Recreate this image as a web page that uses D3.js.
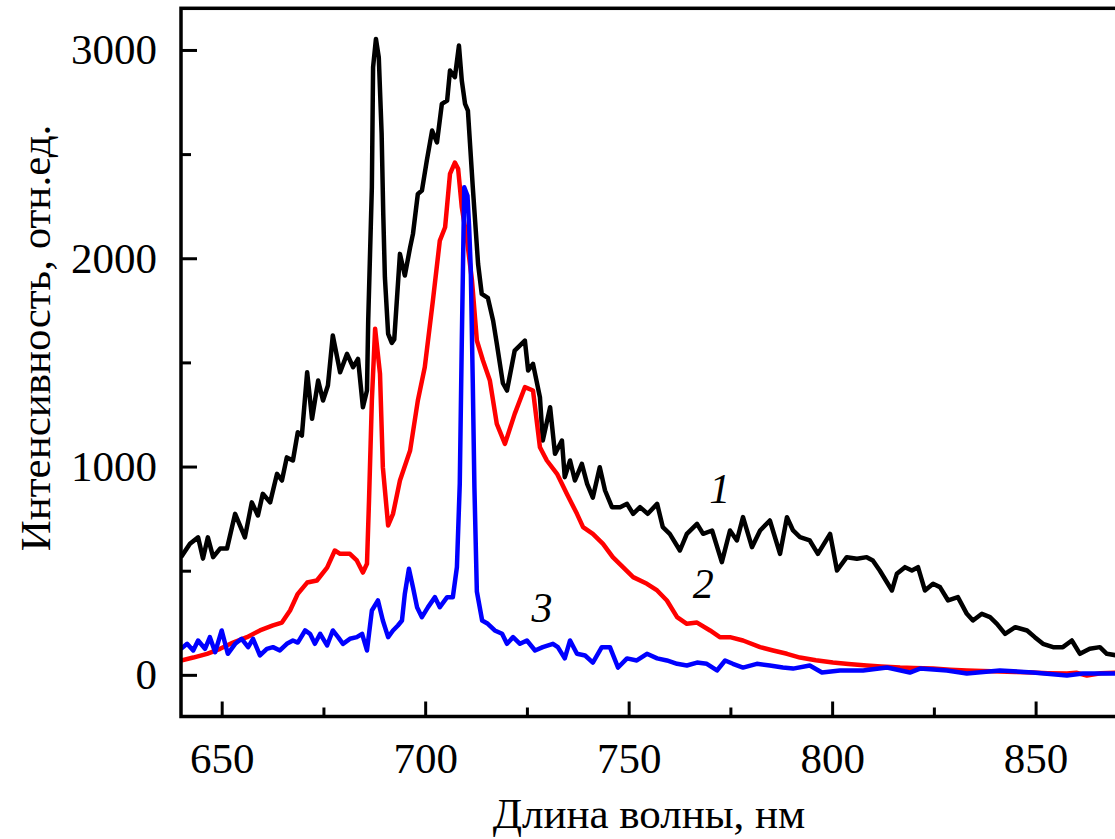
<!DOCTYPE html>
<html>
<head>
<meta charset="utf-8">
<script src="https://cdn.jsdelivr.net/npm/d3@7"></script>
<style>
  body { margin: 0; background: #fff; }
  svg text { font-family: "Liberation Serif", "Times New Roman", serif; fill: #000; }
</style>
</head>
<body>
<div id="chart"></div>
<script>
const width = 1115;
const height = 839;

// curve 1 (black)
const wave1 = [640, 642.2, 644.2, 645.4, 646.6, 647.9, 649.6, 651.3, 653.3, 655.7, 657.4, 658.9, 660.1, 661.9, 663.6, 664.8, 666, 667.5, 668.7, 669.7,
  671, 672.2, 673.7, 674.9, 676.1, 677.3, 679.1, 680.8, 682.3, 683.5, 684.7, 685.7, 686, 686.9, 687.2, 687.9, 688.6, 689.3, 689.7, 690.1,
  690.9, 691.8, 692.4, 693.8, 695, 696.3, 697, 698.2, 699.2, 700.4, 701.7, 702.9, 704.1, 705.4, 706.1, 707.3, 708.3, 709, 709.8, 710.5,
  711.7, 713, 713.9, 715.4, 716.7, 717.6, 719.1, 720.1, 722, 724.5, 725.3, 726.5, 728.2, 728.9, 730.7, 731.9, 733.6, 734.3, 735.6, 736.8,
  738.5, 739.8, 741.2, 742.9, 744.2, 745.9, 747.9, 749.6, 751.1, 752.8, 754.7, 757, 758.4, 760.1, 762.6, 764.3, 766.8, 768.3, 770.5, 772.9,
  774.9, 776.6, 778.1, 780.3, 782.3, 784.7, 787.2, 788.9, 790.4, 792.1, 794.5, 796.5, 799.5, 801.2, 803.6, 806.1, 808.5, 810, 811.7, 814.7,
  815.9, 817.9, 819.6, 821.1, 822.8, 824.8, 826.5, 828.5, 830.9, 833.1, 834.6, 836.8, 838.8, 840.5, 842.5, 845, 847.9, 849.8, 851.8, 854.3,
  856.7, 858.9, 860.9, 863.3, 865.8, 867.5, 870];
const int1 = [565, 629, 660, 558, 660, 565, 606, 606, 773, 660, 828, 765, 869, 828, 965, 933, 1044, 1029, 1165, 1149,
  1453, 1229, 1413, 1317, 1389, 1629, 1453, 1541, 1477, 1517, 1285, 1365, 1700, 2341, 2917, 3053, 2965, 2598, 2213, 1909,
  1637, 1594, 1610, 2021, 1917, 2052, 2117, 2309, 2325, 2469, 2613, 2556, 2741, 2757, 2901, 2869, 3021, 2853, 2741, 2709,
  2341, 1973, 1829, 1810, 1700, 1590, 1400, 1365, 1557, 1605, 1461, 1493, 1333, 1125, 1285, 1061, 1125, 949, 1029, 933,
  1013, 917, 851, 997, 885, 805, 805, 821, 773, 805, 773, 821, 709, 677, 597, 677, 725, 677, 693, 541,
  693, 645, 757, 613, 693, 741, 581, 757, 693, 661, 645, 581, 677, 501, 565, 557, 565, 549, 501, 405,
  485, 517, 501, 517, 405, 437, 421, 357, 373, 293, 261, 293, 277, 245, 197, 229, 213, 181, 149, 133,
  133, 165, 101, 125, 133, 101, 93];

// curve 2 (red)
const wave2 = [640, 643, 646.4, 649.6, 652.8, 656.2, 659.4, 662.6, 664.8, 666.8, 668.7, 671, 673.4, 675.9, 677.8, 679.1, 681.5, 683.2, 684.7, 685.7,
  686.2, 686.9, 687.7, 688.9, 689.6, 690.9, 692.1, 693.8, 696.3, 698.2, 699.9, 701.9, 703.6, 704.9, 706.1, 707.3, 708.1, 709, 710.3, 711.5,
  712.7, 714.2, 715.9, 717.6, 719.6, 722, 724.5, 726.5, 728.2, 729.9, 732.4, 734.8, 737.3, 738.8, 741.2, 743.7, 746.1, 748.6, 751.1, 754.5,
  757, 759.4, 761.9, 764.3, 766.8, 770, 772.4, 774.9, 778.1, 782.3, 785.5, 788.9, 792.1, 796, 800.2, 804, 808.5, 812, 816.7, 820,
  824.8, 829, 833.1, 837, 841.2, 845, 849.3, 853, 857.7, 860, 862.6, 866, 870];
const int2 = [69, 83, 101, 125, 155, 181, 213, 237, 251, 309, 389, 443, 453, 515, 597, 581, 581, 549, 491, 533,
  837, 1317, 1661, 1445, 997, 717, 773, 933, 1077, 1317, 1477, 1797, 2085, 2149, 2405, 2459, 2429, 2245, 2085, 1893,
  1605, 1509, 1413, 1205, 1109, 1253, 1381, 1365, 1093, 1029, 965, 869, 773, 709, 677, 629, 565, 517, 469, 437,
  405, 357, 277, 245, 251, 213, 181, 181, 165, 133, 117, 101, 83, 70, 59, 52, 45, 40, 35, 33,
  30, 25, 21, 18, 16, 14, 11, 8, 6, 10, -3, 8, 11];

// curve 3 (blue)
const wave3 = [640, 641.5, 643, 644.2, 645.9, 647.1, 648.4, 650, 651.5, 653.3, 654.9, 656.5, 657.7, 659.4, 661.1, 662.6, 664.3, 666, 667.5, 668.7,
  670.5, 671.7, 672.9, 674.2, 675.9, 677.3, 678.6, 679.8, 681.5, 683.2, 684.5, 685.7, 686.9, 688.4, 689.6, 690.9, 692.1, 693.3, 694.3, 695,
  696, 697, 698, 699.2, 700.7, 702.4, 703.6, 705.4, 706.8, 707.8, 708.5, 709, 709.6, 710.4, 710.8, 711.2, 711.7, 712.1, 712.7, 714,
  715.4, 717.1, 718.9, 720.1, 721.6, 723.3, 725, 727, 728.9, 731.4, 732.6, 734.3, 735.6, 737.3, 739.3, 741.2, 743.4, 745.4, 747.4, 749.6,
  752, 754.5, 757, 759.4, 761.9, 764.3, 766.8, 769.2, 771.7, 773.7, 775.6, 778.1, 781.5, 784.7, 787.9, 790.4, 794.5, 797.5, 801.9, 807.6,
  813.5, 819.1, 821.6, 828.2, 833.1, 841.2, 849.3, 857.7, 861.6, 870];
const int3 = [125, 149, 117, 165, 125, 181, 109, 213, 101, 149, 173, 133, 173, 93, 125, 133, 117, 149, 165, 155,
  213, 197, 149, 197, 141, 213, 181, 149, 173, 181, 197, 117, 309, 357, 261, 181, 213, 237, 261, 389,
  509, 421, 325, 277, 325, 373, 325, 373, 373, 517, 917, 1600, 2341, 2300, 2150, 1950, 1400, 900, 400, 261,
  245, 213, 197, 149, 181, 149, 165, 117, 133, 149, 133, 79, 165, 101, 93, 59, 133, 133, 35, 79,
  69, 101, 79, 69, 53, 45, 59, 53, 21, 69, 53, 35, 53, 45, 35, 30, 45, 11, 21, 21,
  35, 11, 30, 21, 6, 21, 11, -3, 6, 6];

const xTicks = [650, 700, 750, 800, 850];
const xMinor = [675, 725, 775, 825];
const yTicks = [0, 1000, 2000, 3000];
const yMinor = [500, 1500, 2500];

const curveNames = ["1", "2", "3"];
const curveLabelWave = [772.4, 768.3, 728.7];
const curveLabelInt = [825, 369, 253];

const series = [
  { w: wave1, v: int1, color: "#000000" },
  { w: wave2, v: int2, color: "#ff0000" },
  { w: wave3, v: int3, color: "#0000ff" }
];

const plotLeft = 181, plotRight = 1117, plotTop = 8.3, plotBottom = 716.5;

const svg = d3.select("#chart")
    .append("svg")
    .attr("width", width)
    .attr("height", height);

const x = d3.scaleLinear().domain([640, 870]).range([plotLeft, plotRight]);
const y = d3.scaleLinear().domain([-200, 3200]).range([plotBottom, plotTop]);

svg.append("clipPath")
    .attr("id", "plot")
    .append("rect")
    .attr("x", plotLeft)
    .attr("y", plotTop)
    .attr("width", plotRight - plotLeft)
    .attr("height", plotBottom - plotTop);

const line = d3.line()
    .x(d => x(d[0]))
    .y(d => y(d[1]));

series.forEach(s => {
    svg.append("path")
        .datum(s.w.map((w, i) => [w, s.v[i]]))
        .attr("clip-path", "url(#plot)")
        .attr("fill", "none")
        .attr("stroke", s.color)
        .attr("stroke-width", 4.5)
        .attr("stroke-linejoin", "round")
        .attr("d", line);
});

// axes: ticks point inward
svg.append("g")
    .attr("transform", `translate(0,${plotBottom})`)
    .call(d3.axisBottom(x).tickValues(xTicks).tickFormat(d3.format("d"))
        .tickSize(-15).tickPadding(26).tickSizeOuter(0));
svg.append("g")
    .attr("transform", `translate(0,${plotBottom})`)
    .call(d3.axisBottom(x).tickValues(xMinor).tickSize(-9).tickFormat("").tickSizeOuter(0));

svg.append("g")
    .attr("transform", `translate(${plotLeft},0)`)
    .call(d3.axisLeft(y).tickValues(yTicks).tickFormat(d3.format("d"))
        .tickSize(-16).tickPadding(24).tickSizeOuter(0));
svg.append("g")
    .attr("transform", `translate(${plotLeft},0)`)
    .call(d3.axisLeft(y).tickValues(yMinor).tickSize(-10).tickFormat("").tickSizeOuter(0));

svg.selectAll(".domain").remove();
svg.selectAll(".tick line").attr("stroke", "#000").attr("stroke-width", 3);
svg.selectAll(".tick text")
    .attr("font-size", "43px")
    .attr("font-family", "Liberation Serif, serif")
    .attr("fill", "#000");

// frame
svg.append("rect")
    .attr("x", plotLeft)
    .attr("y", plotTop)
    .attr("width", plotRight - plotLeft)
    .attr("height", plotBottom - plotTop)
    .attr("fill", "none")
    .attr("stroke", "#000")
    .attr("stroke-width", 3.5);

// curve numbers
svg.selectAll(".cname")
    .data(curveNames)
    .enter()
    .append("text")
    .attr("class", "cname")
    .attr("x", (d, i) => x(curveLabelWave[i]))
    .attr("y", (d, i) => y(curveLabelInt[i]))
    .attr("text-anchor", "middle")
    .attr("font-size", "42px")
    .attr("font-style", "italic")
    .text(d => d);

svg.append("text")
    .attr("x", (plotLeft + plotRight) / 2)
    .attr("y", 828)
    .attr("text-anchor", "middle")
    .attr("font-size", "43px")
    .text("Длина волны, нм");

svg.append("text")
    .attr("transform", "translate(50,338) rotate(-90)")
    .attr("text-anchor", "middle")
    .attr("font-size", "43px")
    .text("Интенсивность, отн.ед.");
</script>
</body>
</html>
